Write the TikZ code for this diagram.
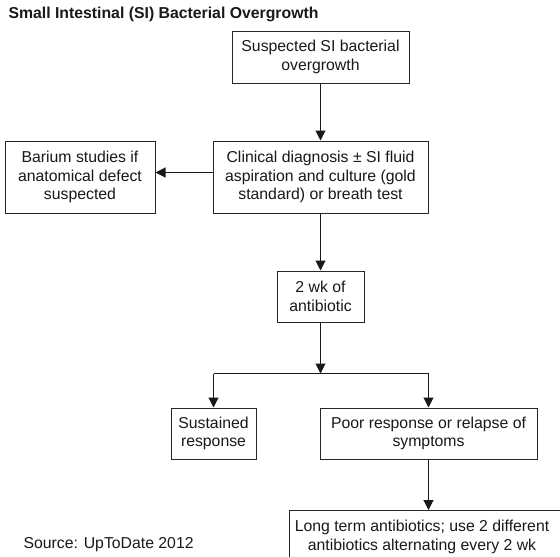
\documentclass[tikz,border=0pt]{standalone}
\usepackage{fontspec}
\setmainfont{Liberation Sans}
\usetikzlibrary{arrows.meta}
\begin{document}
\begin{tikzpicture}[x=1pt,y=-1pt,
  every node/.style={font=\fontsize{15.8}{18.5}\selectfont, text=black!90},
  box/.style={draw=black!85, line width=1pt, inner sep=0pt, align=center,
              fill=white},
  flow/.style={draw=black!90, line width=1.1pt,
               -{Triangle[length=10pt,width=10pt]}},
  plain/.style={draw=black!90, line width=1.1pt}]
\clip (0,0) rectangle (560,557);
\fill[white] (0,0) rectangle (560,557);

% heading and source line
\node[anchor=base west, font=\bfseries\fontsize{15.8}{18.5}\selectfont] (title) at (5,18)
  {Small Intestinal (SI) Bacterial Overgrowth};
\node[anchor=base west] (src) at (20,548) {Source: UpToDate 2012};

% boxes
\node[box, minimum width=177pt, minimum height=52pt] (b1) at (320.5,57)
  {Suspected SI bacterial\\overgrowth};
\node[box, minimum width=215pt, minimum height=72pt] (b2) at (320.5,177)
  {Clinical diagnosis ± SI fluid\\aspiration and culture (gold\\standard) or breath test};
\node[box, minimum width=150pt, minimum height=72pt] (b0) at (80,177)
  {Barium studies if\\anatomical defect\\suspected};
\node[box, minimum width=87pt, minimum height=51pt] (b3) at (320.5,296.5)
  {2 wk of\\antibiotic};
\node[box, minimum width=85pt, minimum height=51pt] (b4) at (213.5,433.5)
  {Sustained\\response};
\node[box, minimum width=217pt, minimum height=51pt] (b5) at (428.5,433.5)
  {Poor response or relapse of\\symptoms};
\node[box, minimum width=300pt, minimum height=56pt, anchor=north west] (b6) at (289,510) {};
\node[align=center, inner sep=0pt] (b6t) at (422,537)
  {Long term antibiotics; use 2 different\\antibiotics alternating every 2 wk};

% connectors
\coordinate (j) at (320.5,373.5);
\draw[flow] (b1.south) -- (b2.north);
\draw[flow] ([yshift=4.5pt]b2.west) -- ([yshift=4.5pt]b0.east);
\draw[flow] (b2.south) -- (b3.north);
\draw[flow] (b3.south) -- (j);
\draw[plain] (b4.north |- j) -- (b5.north |- j);
\draw[flow] (b4.north |- j) -- (b4.north);
\draw[flow] (b5.north |- j) -- (b5.north);
\draw[flow] (b5.south) -- (b5.south |- b6.north);
\end{tikzpicture}
\end{document}
